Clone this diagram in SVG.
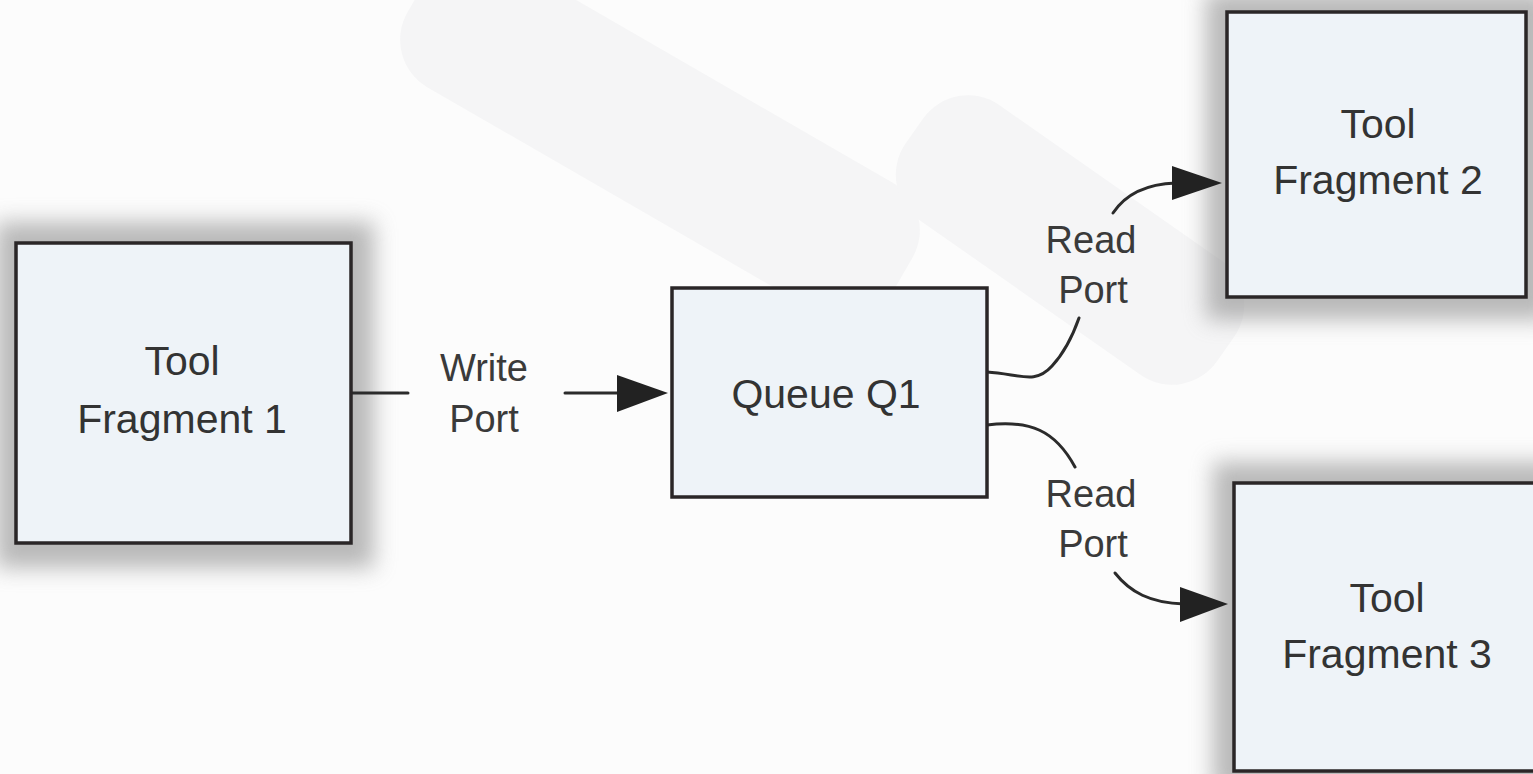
<svg xmlns="http://www.w3.org/2000/svg" width="1533" height="774" viewBox="0 0 1533 774">
  <style>
    .box { fill: #eef3f8; stroke: #2a2627; stroke-width: 3.5; }
    .shadow { fill: #8c8c8c; opacity: 0.6; filter: url(#soft); }
    .label { font-family: "Liberation Sans", Arial, sans-serif; font-size: 41px; fill: #333; text-anchor: middle; }
    .port { font-family: "Liberation Sans", Arial, sans-serif; font-size: 38px; fill: #3a3a3a; text-anchor: middle; }
    .wire { fill: none; stroke: #2b2b2b; stroke-width: 3; stroke-linecap: round; }
    .head { fill: #222; }
    .mark { fill: #f5f5f6; }
  </style>
  <defs>
    <filter id="soft" x="-30%" y="-30%" width="160%" height="160%">
      <feGaussianBlur stdDeviation="11"/>
    </filter>
  </defs>

  <rect width="1533" height="774" fill="#fcfcfc"/>

  <!-- faint background pattern -->
  <g id="backdrop">
    <rect class="mark" x="380" y="60" width="560" height="150" rx="55" transform="rotate(30 660 135)"/>
    <rect class="mark" x="880" y="170" width="380" height="140" rx="55" transform="rotate(35 1070 240)"/>
  </g>

  <!-- drop shadows behind the tool boxes -->
  <g id="shadows">
    <rect class="shadow" x="-4" y="222" width="378" height="346"/>
    <rect class="shadow" x="1206" y="-8" width="345" height="328"/>
    <rect class="shadow" x="1213" y="462" width="345" height="330"/>
  </g>

  <g id="connectors">
    <line class="wire" x1="351" y1="393" x2="408" y2="393"/>
    <line class="wire" x1="565" y1="393" x2="622" y2="393"/>
    <polygon class="head" points="617,375 668,393 617,412"/>
    <path class="wire" d="M987,372 C1020,374 1035,385 1052,366 C1065,352 1073,335 1079,318"/>
    <path class="wire" d="M987,425 C1030,420 1055,430 1075,467"/>
    <path class="wire" d="M1113,213 C1125,195 1145,184 1176,183"/>
    <polygon class="head" points="1172,166 1222,183 1172,200"/>
    <path class="wire" d="M1115,573 C1130,592 1150,603 1184,604"/>
    <polygon class="head" points="1180,587 1228,604 1180,622"/>
    <text class="port" x="484" y="381">Write</text>
    <text class="port" x="484" y="432">Port</text>
    <text class="port" x="1091" y="253">Read</text>
    <text class="port" x="1093" y="303">Port</text>
    <text class="port" x="1091" y="507">Read</text>
    <text class="port" x="1093" y="557">Port</text>
  </g>

  <g id="tool1">
    <rect class="box" x="16" y="243" width="335" height="300"/>
    <text class="label" x="182" y="375">Tool</text>
    <text class="label" x="182" y="433">Fragment 1</text>
  </g>

  <g id="queue">
    <rect class="box" x="672" y="288" width="315" height="209"/>
    <text class="label" x="826" y="408">Queue Q1</text>
  </g>

  <g id="tool2">
    <rect class="box" x="1227" y="12" width="299" height="285"/>
    <text class="label" x="1378" y="138">Tool</text>
    <text class="label" x="1378" y="194">Fragment 2</text>
  </g>

  <g id="tool3">
    <rect class="box" x="1234" y="483" width="310" height="288"/>
    <text class="label" x="1387" y="612">Tool</text>
    <text class="label" x="1387" y="668">Fragment 3</text>
  </g>
</svg>
